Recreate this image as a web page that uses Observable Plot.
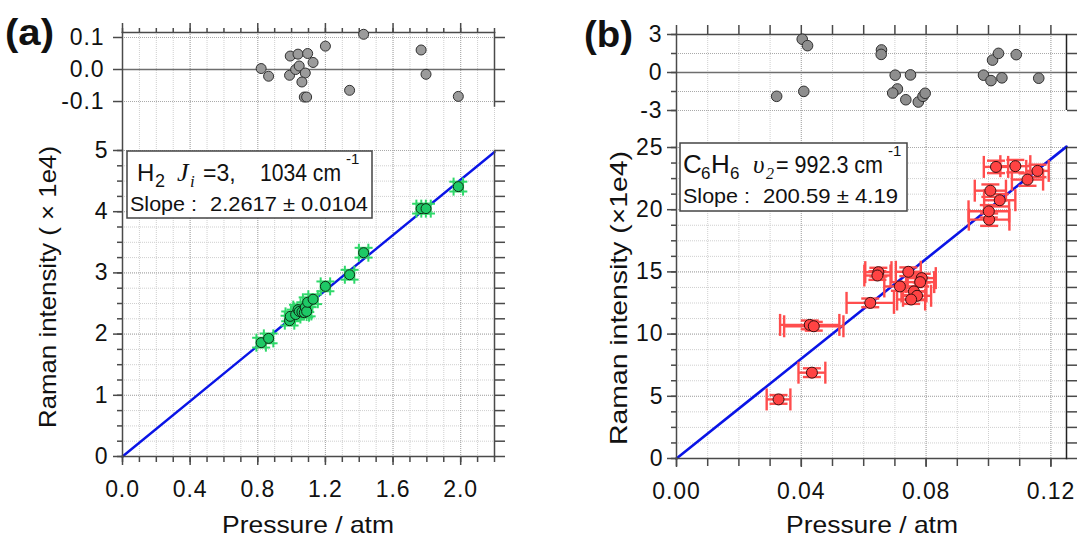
<!DOCTYPE html>
<html>
<head>
<meta charset="utf-8">
<script src="https://cdn.jsdelivr.net/npm/d3@7"></script>
<script src="https://cdn.jsdelivr.net/npm/@observablehq/plot@0.6"></script>
<style>
  body { margin: 0; background: #fff; }
  #wrap { position: relative; width: 1078px; height: 537px; overflow: hidden; background: #fff; }
  #wrap > svg { position: absolute; }
  #wrap svg [aria-label$="tick label"] { font-size: 23px !important; letter-spacing: 0.9px; }
  #wrap svg [aria-label$="tick label"] text { font-size: inherit !important; }
</style>
</head>
<body>
<div id="wrap"></div>
<script>
// ---------------- Panel (a): H2 ----------------
const h2Pressure  = [0.82, 0.864, 0.988, 0.992, 1.024, 1.038, 1.045, 1.061, 1.075, 1.081, 1.089, 1.095, 1.127, 1.20, 1.343, 1.426, 1.766, 1.795, 1.986];
const h2Intensity = [1.86, 1.93, 2.22, 2.29, 2.32, 2.40, 2.37, 2.36, 2.35, 2.44, 2.37, 2.52, 2.57, 2.78, 2.97, 3.33, 4.05, 4.05, 4.41];
const h2PressErr  = [0.028, 0.028, 0.028, 0.028, 0.028, 0.028, 0.028, 0.028, 0.028, 0.028, 0.028, 0.028, 0.028, 0.028, 0.028, 0.028, 0.028, 0.028, 0.028];
const h2IntErr    = [0.08, 0.08, 0.08, 0.08, 0.08, 0.08, 0.08, 0.08, 0.08, 0.08, 0.08, 0.08, 0.08, 0.08, 0.08, 0.08, 0.08, 0.08, 0.08];
const h2ResPressure = [0.82, 0.864, 0.992, 0.988, 1.038, 1.024, 1.045, 1.081, 1.061, 1.095, 1.127, 1.075, 1.089, 1.20, 1.343, 1.426, 1.766, 1.795, 1.986];
const h2Residual    = [0.003, -0.021, 0.042, -0.018, 0.048, 0.0, 0.011, -0.011, -0.039, 0.05, 0.022, -0.086, -0.086, 0.073, -0.065, 0.11, 0.061, -0.015, -0.084];
const h2FitPressure = [0, 2.2];
const h2FitIntensity = [0, 4.976];

const aXMajor = [0, 0.4, 0.8, 1.2, 1.6, 2.0];
const aXMinor = [0, 0.1, 0.2, 0.3, 0.4, 0.5, 0.6, 0.7, 0.8, 0.9, 1.0, 1.1, 1.2, 1.3, 1.4, 1.5, 1.6, 1.7, 1.8, 1.9, 2.0, 2.1, 2.2];
const aYMajor = [0, 1, 2, 3, 4, 5];
const aYMinor = [0, 0.25, 0.5, 0.75, 1, 1.25, 1.5, 1.75, 2, 2.25, 2.5, 2.75, 3, 3.25, 3.5, 3.75, 4, 4.25, 4.5, 4.75, 5];
const aResTicks = [0.1, 0, -0.1];
const aResGrid = [0.1, -0.1];

// ---------------- Panel (b): C6H6 ----------------
const c6Pressure  = [0.0327, 0.0434, 0.0427, 0.0440, 0.0621, 0.0647, 0.0644, 0.0716, 0.0743, 0.0786, 0.0781, 0.0761, 0.0771, 0.0752, 0.1002, 0.1001, 0.1006, 0.1036, 0.1024, 0.1086, 0.1125, 0.1157];
const c6Intensity = [4.75, 6.9, 10.74, 10.63, 12.51, 14.98, 14.71, 13.83, 15.01, 14.50, 14.18, 13.43, 13.08, 12.78, 19.2, 19.87, 21.53, 20.76, 23.44, 23.5, 22.42, 23.12];
const c6PressErr  = [0.0038, 0.0043, 0.0095, 0.0095, 0.0076, 0.0042, 0.0042, 0.0050, 0.0040, 0.0045, 0.0045, 0.0040, 0.0045, 0.0045, 0.0065, 0.0065, 0.0050, 0.0050, 0.0039, 0.0048, 0.0050, 0.0036];
const c6IntErr    = [0.35, 0.35, 0.35, 0.35, 0.35, 0.35, 0.35, 0.35, 0.35, 0.35, 0.35, 0.35, 0.35, 0.35, 0.5, 0.5, 0.5, 0.5, 0.5, 0.5, 0.5, 0.5];
const c6ResPressure = [0.0321, 0.0403, 0.0420, 0.0408, 0.0657, 0.0656, 0.0701, 0.0750, 0.0708, 0.0693, 0.0735, 0.0775, 0.0790, 0.0797, 0.0984, 0.1008, 0.1013, 0.1032, 0.1043, 0.1089, 0.1161];
const c6Residual    = [-1.88, 2.63, 2.12, -1.49, 1.78, 1.43, -0.21, -0.19, -1.30, -1.62, -2.15, -2.33, -1.88, -1.64, -0.21, -0.64, 0.98, 1.51, -0.42, 1.41, -0.45];
const c6FitPressure = [0, 0.125];
const c6FitIntensity = [0, 25.07];

const bXMajor = [0, 0.04, 0.08, 0.12];
const bXMinor = [0, 0.01, 0.02, 0.03, 0.04, 0.05, 0.06, 0.07, 0.08, 0.09, 0.10, 0.11, 0.12];
const bYMajor = [0, 5, 10, 15, 20, 25];
const bYMinor = [0, 1.25, 2.5, 3.75, 5, 6.25, 7.5, 8.75, 10, 11.25, 12.5, 13.75, 15, 16.25, 17.5, 18.75, 20, 21.25, 22.5, 23.75, 25];
const bResTicks = [3, 0, -3];
const bResMinor = [3, 1.5, 0, -1.5, -3];
const bResGrid = [1.5, -1.5, -3];

// ---------------- tables ----------------
const h2 = h2Pressure.map((x, i) => ({x, y: h2Intensity[i], xe: h2PressErr[i], ye: h2IntErr[i]}));
const h2Res = h2ResPressure.map((x, i) => ({x, r: h2Residual[i]}));
const h2Fit = h2FitPressure.map((x, i) => ({x, y: h2FitIntensity[i]}));
const c6 = c6Pressure.map((x, i) => ({x, y: c6Intensity[i], xe: c6PressErr[i], ye: c6IntErr[i]}));
const c6Res = c6ResPressure.map((x, i) => ({x, r: c6Residual[i]}));
const c6Fit = c6FitPressure.map((x, i) => ({x, y: c6FitIntensity[i]}));

// ---------------- styling ----------------
const FONT = '"Liberation Sans", Arial, Helvetica, sans-serif';
const AX = "#4a4a4a";
const GMIN = "#cfcfcf", GMAJ = "#a9a9a9";
const GREEN = "#2fd86a", GREEN_FILL = "#1ec966";
const RED = "#ff4d4d", RED_FILL = "#ff4343";
const BLUE = "#0a14e6";
const noText = () => "";
const fmtSigned = (digits) => (d) => (d < 0 ? "-" : "") + Math.abs(d).toFixed(digits);
const baseStyle = {fontFamily: FONT, fontSize: "23px", background: "none", overflow: "visible", color: "#111"};
const ax = (o) => Object.assign({stroke: AX, strokeWidth: 1.5, fill: "#111", fontSize: 23, label: null}, o);
const grid = (ticks, color, dash) => ({stroke: color, strokeOpacity: 1, strokeDasharray: dash, strokeWidth: 1});

// custom cap symbols (line segments centred on the point; length = 2r)
const vCap = {draw(ctx, size) { const r = Math.sqrt(size / Math.PI); ctx.moveTo(0, -r); ctx.lineTo(0, r); }};
const hCap = {draw(ctx, size) { const r = Math.sqrt(size / Math.PI); ctx.moveTo(-r, 0); ctx.lineTo(r, 0); }};

function errorMarks(data, color, width, xCapR, yCapR) {
  return [
    Plot.ruleY(data, {y: "y", x1: d => d.x - d.xe, x2: d => d.x + d.xe, stroke: color, strokeWidth: width}),
    Plot.ruleX(data, {x: "x", y1: d => d.y - d.ye, y2: d => d.y + d.ye, stroke: color, strokeWidth: width}),
    Plot.dot(data, {x: d => d.x - d.xe, y: "y", symbol: vCap, r: xCapR, stroke: color, fill: "none", strokeWidth: width}),
    Plot.dot(data, {x: d => d.x + d.xe, y: "y", symbol: vCap, r: xCapR, stroke: color, fill: "none", strokeWidth: width}),
    Plot.dot(data, {x: "x", y: d => d.y - d.ye, symbol: hCap, r: yCapR, stroke: color, fill: "none", strokeWidth: width}),
    Plot.dot(data, {x: "x", y: d => d.y + d.ye, symbol: hCap, r: yCapR, stroke: color, fill: "none", strokeWidth: width})
  ];
}

const wrap = document.getElementById("wrap");
function place(svg, left, top) { svg.style.left = left + "px"; svg.style.top = top + "px"; wrap.appendChild(svg); }

// ---------- (a) residual ----------
const aRes = Plot.plot({
  width: 540, height: 150,
  marginLeft: 122, marginRight: 46, marginTop: 32, marginBottom: 0,
  x: {domain: [0, 2.2]}, y: {domain: [-0.253, 0.1156]},
  style: baseStyle,
  marks: [
    Plot.gridX(aXMinor, grid(null, GMIN, "1,1")),
    Plot.gridX(aXMajor, grid(null, GMAJ, "1,1")),
    Plot.gridY(aResGrid, grid(null, GMAJ, "1,1")),
    Plot.ruleY([0], {stroke: "#6e6e6e", strokeWidth: 1.5}),
    Plot.frame({anchor: "top", stroke: AX, strokeWidth: 1.5}),
    Plot.frame({anchor: "left", stroke: AX, strokeWidth: 1.5}),
    Plot.ruleX([2.2], {y1: -0.118, y2: 0.1156, stroke: AX, strokeWidth: 1.5}),
    Plot.axisX(aXMinor, ax({anchor: "top", tickSize: 5, tickFormat: noText})),
    Plot.axisX(aXMajor, ax({anchor: "top", tickSize: 10, tickFormat: noText})),
    Plot.axisY(aResTicks, ax({anchor: "left", tickSize: 9, tickPadding: 9, tickFormat: fmtSigned(1)})),
    Plot.axisY(aResTicks, ax({anchor: "right", tickSize: 10, tickFormat: noText})),
    Plot.dot(h2Res, {x: "x", y: "r", r: 5, fill: "#9b9b9b", stroke: "#303030", strokeWidth: 1})
  ]
});
place(aRes, 0, 0);

// ---------- (a) main ----------
const aMain = Plot.plot({
  width: 540, height: 537,
  marginLeft: 122, marginRight: 46, marginTop: 150, marginBottom: 81,
  x: {domain: [0, 2.2]}, y: {domain: [0, 5]},
  style: baseStyle,
  marks: [
    Plot.gridX(aXMinor, grid(null, GMIN, "1,1")),
    Plot.gridY(aYMinor, grid(null, GMIN, "1,1")),
    Plot.gridX(aXMajor, grid(null, GMAJ, "1,1")),
    Plot.gridY(aYMajor, grid(null, GMAJ, "1,1")),
    Plot.line(h2Fit, {x: "x", y: "y", stroke: BLUE, strokeWidth: 2.4}),
    ...errorMarks(h2, GREEN, 2, 9, 9),
    Plot.dot(h2, {x: "x", y: "y", r: 5, fill: GREEN_FILL, stroke: "#0e2a14", strokeWidth: 1}),
    Plot.frame({anchor: "left", stroke: AX, strokeWidth: 1.5}),
    Plot.frame({anchor: "bottom", stroke: AX, strokeWidth: 1.5}),
    Plot.frame({anchor: "right", stroke: AX, strokeWidth: 1.5}),
    Plot.axisX(aXMinor, ax({anchor: "bottom", tickSize: 6, tickFormat: noText})),
    Plot.axisX(aXMajor, ax({anchor: "bottom", tickSize: 9, tickPadding: 15, tickFormat: d3.format(".1f")})),
    Plot.axisY(aYMinor, ax({anchor: "left", tickSize: 5, tickFormat: noText})),
    Plot.axisY(aYMajor, ax({anchor: "left", tickSize: 9, tickPadding: 5, tickFormat: d3.format("d")})),
    Plot.axisY(aYMinor, ax({anchor: "right", tickSize: 10, tickFormat: noText}))
  ]
});
place(aMain, 0, 0);

// ---------- (b) residual ----------
const bRes = Plot.plot({
  width: 538, height: 147,
  marginLeft: 136, marginRight: 12, marginTop: 34, marginBottom: 0,
  x: {domain: [0, 0.125]}, y: {domain: [-5.92, 3]},
  style: baseStyle,
  marks: [
    Plot.gridX(bXMinor, grid(null, GMIN, "1,1")),
    Plot.gridX(bXMajor, grid(null, GMAJ, "1,1")),
    Plot.gridY(bResGrid, grid(null, GMAJ, "1,1")),
    Plot.ruleY([0], {stroke: "#6e6e6e", strokeWidth: 1.5}),
    Plot.frame({anchor: "top", stroke: AX, strokeWidth: 1.5}),
    Plot.frame({anchor: "left", stroke: AX, strokeWidth: 1.5}),
    Plot.ruleX([0.125], {y1: -3, y2: 3, stroke: "#222", strokeWidth: 1.5}),
    Plot.axisX(bXMinor, ax({anchor: "top", tickSize: 10, tickFormat: noText})),
    Plot.axisY(bResMinor, ax({anchor: "left", tickSize: 5, tickFormat: noText})),
    Plot.axisY(bResTicks, ax({anchor: "left", tickSize: 9, tickPadding: 5, tickFormat: fmtSigned(0)})),
    Plot.axisY(bResMinor, ax({anchor: "right", tickSize: 10, tickFormat: noText})),
    Plot.dot(c6Res, {x: "x", y: "r", r: 5.3, fill: "#8e8e8e", stroke: "#303030", strokeWidth: 1})
  ]
});
place(bRes, 540, 0);

// ---------- (b) main ----------
const bMain = Plot.plot({
  width: 538, height: 537,
  marginLeft: 136, marginRight: 12, marginTop: 147, marginBottom: 79,
  x: {domain: [0, 0.125]}, y: {domain: [0, 25]},
  style: baseStyle,
  marks: [
    Plot.gridX(bXMinor, grid(null, GMIN, "1,1")),
    Plot.gridY(bYMinor, grid(null, GMIN, "1,1")),
    Plot.gridX(bXMajor, grid(null, GMAJ, "1,1")),
    Plot.gridY(bYMajor, grid(null, GMAJ, "1,1")),
    Plot.line(c6Fit, {x: "x", y: "y", stroke: BLUE, strokeWidth: 2.6}),
    ...errorMarks(c6, RED, 2.4, 11, 9),
    Plot.dot(c6, {x: "x", y: "y", r: 5.5, fill: RED_FILL, stroke: "#3a1010", strokeWidth: 1}),
    Plot.frame({anchor: "left", stroke: AX, strokeWidth: 1.5}),
    Plot.frame({anchor: "bottom", stroke: AX, strokeWidth: 1.5}),
    Plot.frame({anchor: "right", stroke: "#222", strokeWidth: 1.5}),
    Plot.axisX(bXMinor, ax({anchor: "bottom", tickSize: 8, tickFormat: noText})),
    Plot.axisX(bXMajor, ax({anchor: "bottom", tickSize: 9, tickPadding: 15, tickFormat: d3.format(".2f")})),
    Plot.axisY(bYMinor, ax({anchor: "left", tickSize: 5, tickFormat: noText})),
    Plot.axisY(bYMajor, ax({anchor: "left", tickSize: 9, tickPadding: 4, tickFormat: d3.format("d")})),
    Plot.axisY(bYMinor, ax({anchor: "right", tickSize: 10, tickFormat: noText}))
  ]
});
place(bMain, 540, 0);

// ---------- text overlay: labels, titles, annotation boxes ----------
const ov = d3.create("svg").attr("width", 1078).attr("height", 537)
  .style("left", "0px").style("top", "0px").style("position", "absolute")
  .attr("font-family", FONT).attr("fill", "#111");

function t(x, y, s, o = {}) {
  const e = ov.append("text").attr("x", x).attr("y", y).text(s)
    .attr("font-size", o.size || 22);
  if (o.anchor) e.attr("text-anchor", o.anchor);
  if (o.weight) e.attr("font-weight", o.weight);
  if (o.italic) e.attr("font-style", "italic");
  if (o.family) e.attr("font-family", o.family);
  if (o.len) e.attr("textLength", o.len).attr("lengthAdjust", "spacingAndGlyphs");
  if (o.transform) e.attr("transform", o.transform);
  return e;
}
const SERIF = '"Liberation Serif", "DejaVu Serif", serif';

// panel letters
t(5, 45, "(a)", {size: 36, weight: "bold", len: 49});
t(584, 47, "(b)", {size: 36, weight: "bold", len: 49});

// axis titles
t(308, 533, "Pressure / atm", {size: 24, anchor: "middle", len: 172});
t(872, 533, "Pressure / atm", {size: 24, anchor: "middle", len: 172});
t(0, 0, "Raman intensity ( × 1e4)", {size: 24, anchor: "middle", len: 282, transform: "translate(56,287) rotate(-90)"});
t(0, 0, "Raman intensity (×1e4)", {size: 24, anchor: "middle", len: 294, transform: "translate(627,298) rotate(-90)"});

// annotation box (a)
ov.append("rect").attr("x", 127).attr("y", 151).attr("width", 245).attr("height", 67)
  .attr("fill", "#fff").attr("stroke", "#444").attr("stroke-width", 1.5);
t(137, 181, "H", {size: 24});
t(155, 187, "2", {size: 18});
t(177, 181, "J", {size: 26, italic: true, family: SERIF});
t(190, 187, "i", {size: 17, italic: true, family: SERIF});
t(203, 181, "=3,", {size: 23});
t(260, 181, "1034 cm", {size: 23, len: 81});
t(346, 164, "-1", {size: 15});
t(130, 211, "Slope :", {size: 21, len: 67});
t(210, 211, "2.2617 ± 0.0104", {size: 21, len: 158});

// annotation box (b)
ov.append("rect").attr("x", 680).attr("y", 143).attr("width", 227).attr("height", 68)
  .attr("fill", "#fff").attr("stroke", "#444").attr("stroke-width", 1.5);
t(683, 173, "C", {size: 26});
t(701, 179, "6", {size: 17});
t(711, 173, "H", {size: 26});
t(730, 179, "6", {size: 17});
t(753, 173, "υ", {size: 25, italic: true, family: SERIF});
t(766, 179, "2", {size: 16, italic: true, family: SERIF});
t(776, 173, "= 992.3 cm", {size: 23, len: 107});
t(888, 156, "-1", {size: 15});

t(683, 203, "Slope :", {size: 21, len: 67});
t(763, 203, "200.59 ± 4.19", {size: 21, len: 135});

wrap.appendChild(ov.node());
</script>
</body>
</html>
